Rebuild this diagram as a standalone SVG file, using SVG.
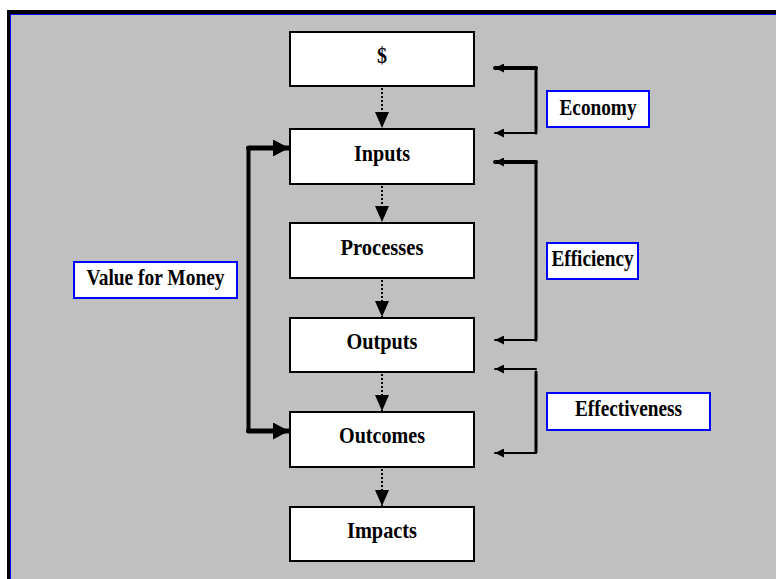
<svg xmlns="http://www.w3.org/2000/svg" width="776" height="579" viewBox="0 0 776 579">
<style>
.box{fill:#fff;stroke:#000;stroke-width:2}
.lbl{fill:#fff;stroke:#0000ff;stroke-width:2}
text{font-family:"Liberation Serif","Times New Roman",serif;font-weight:bold;font-size:24px;fill:#000;text-anchor:middle}
.dot{stroke:#000;stroke-width:2;stroke-dasharray:2 2;fill:none}
.ln{stroke:#000;fill:none;stroke-linecap:round}
</style>
<defs>
<marker id="dh" markerUnits="userSpaceOnUse" markerWidth="16" markerHeight="14" viewBox="0 0 16 14" refX="16" refY="7" orient="auto"><path d="M0,0 L16,7 L0,14 z" fill="#000"/></marker>
<marker id="ah" markerUnits="userSpaceOnUse" markerWidth="9" markerHeight="9" viewBox="0 0 9 9" refX="9" refY="4.5" orient="auto"><path d="M0,0 L9,4.5 L0,9 z" fill="#000"/></marker>
<marker id="bh" markerUnits="userSpaceOnUse" markerWidth="16" markerHeight="17" viewBox="0 0 16 17" refX="16" refY="8.5" orient="auto"><path d="M0,0 L16,8.5 L0,17 z" fill="#000"/></marker>
</defs>
<rect x="0" y="0" width="776" height="579" fill="#fff"/>
<rect x="7" y="10" width="780" height="580" fill="#000"/>
<rect x="10" y="14" width="780" height="580" fill="#0000ff"/>
<rect x="11" y="15" width="780" height="580" fill="#c0c0c0"/>

<g id="connectors">
<path class="dot" d="M382,88 V128" marker-end="url(#dh)"/>
<path class="dot" d="M382,186 V222" marker-end="url(#dh)"/>
<path class="dot" d="M382,280 V317" marker-end="url(#dh)"/>
<path class="dot" d="M382,374 V411" marker-end="url(#dh)"/>
<path class="dot" d="M382,469 V506" marker-end="url(#dh)"/>
<path class="ln" stroke-width="4" d="M536,68 H495" marker-end="url(#ah)"/>
<path class="ln" stroke-width="3" d="M536,68 V133"/>
<path class="ln" stroke-width="2" d="M536,133 H495" marker-end="url(#ah)"/>
<path class="ln" stroke-width="4" d="M536,162 H495" marker-end="url(#ah)"/>
<path class="ln" stroke-width="3" d="M536,162 V340"/>
<path class="ln" stroke-width="2" d="M536,340 H495" marker-end="url(#ah)"/>
<path class="ln" stroke-width="2" d="M536,369 H495" marker-end="url(#ah)"/>
<path class="ln" stroke-width="3" d="M536,372 V452"/>
<path class="ln" stroke-width="2" d="M536,453 H495" marker-end="url(#ah)"/>
<path class="ln" stroke-width="4" d="M248.5,148 V431"/>
<path class="ln" stroke-width="5" d="M248.5,148 H289" marker-end="url(#bh)"/>
<path class="ln" stroke-width="5" d="M248.5,431 H289" marker-end="url(#bh)"/>
</g>

<g id="dollar"><rect class="box" x="290" y="32" width="184" height="54"/><text x="382" y="63" textLength="10" lengthAdjust="spacingAndGlyphs">$</text></g>
<g id="inputs"><rect class="box" x="290" y="129" width="184" height="55"/><text x="382" y="161" textLength="56" lengthAdjust="spacingAndGlyphs">Inputs</text></g>
<g id="processes"><rect class="box" x="290" y="223" width="184" height="55"/><text x="382" y="255" textLength="83" lengthAdjust="spacingAndGlyphs">Processes</text></g>
<g id="outputs"><rect class="box" x="290" y="318" width="184" height="54"/><text x="382" y="349" textLength="71" lengthAdjust="spacingAndGlyphs">Outputs</text></g>
<g id="outcomes"><rect class="box" x="290" y="412" width="184" height="55"/><text x="382" y="443" textLength="86" lengthAdjust="spacingAndGlyphs">Outcomes</text></g>
<g id="impacts"><rect class="box" x="290" y="507" width="184" height="54"/><text x="382" y="538" textLength="70" lengthAdjust="spacingAndGlyphs">Impacts</text></g>

<g id="economy"><rect class="lbl" x="547" y="91" width="102" height="36"/><text x="598" y="115" textLength="77" lengthAdjust="spacingAndGlyphs">Economy</text></g>
<g id="efficiency"><rect class="lbl" x="547" y="243" width="91" height="36"/><text x="592.5" y="266" textLength="82" lengthAdjust="spacingAndGlyphs">Efficiency</text></g>
<g id="effectiveness"><rect class="lbl" x="547" y="393" width="163" height="37"/><text x="628.5" y="416" textLength="107" lengthAdjust="spacingAndGlyphs">Effectiveness</text></g>
<g id="vfm"><rect class="lbl" x="74" y="262" width="163" height="36"/><text x="155.5" y="285" textLength="138" lengthAdjust="spacingAndGlyphs">Value for Money</text></g>
</svg>
